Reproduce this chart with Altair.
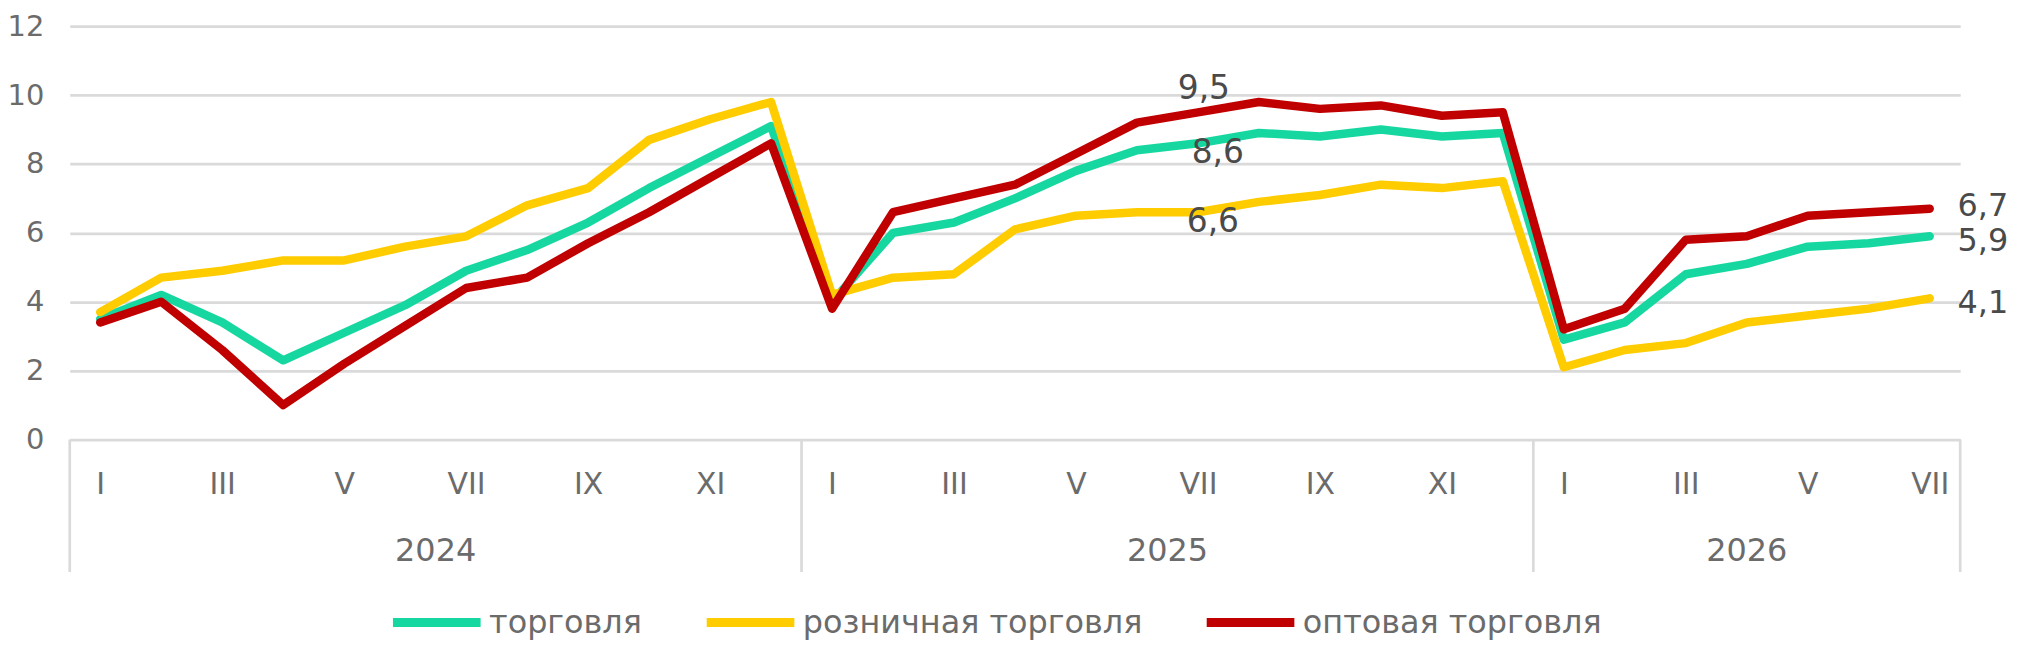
import altair as alt
import pandas as pd

# ---- data ----
months = ["I", "II", "III", "IV", "V", "VI", "VII", "VIII", "IX", "X", "XI", "XII"]
years = ["2024", "2025", "2026"]
months_per_year = [12, 12, 7]
series = ["торговля", "розничная торговля", "оптовая торговля"]
colors = ["#17D7A0", "#FFCC00", "#C00000"]

trade = [3.5, 4.2, 3.4, 2.3, 3.1, 3.9, 4.9, 5.5, 6.3, 7.3, 8.2, 9.1,
         4.0, 6.0, 6.3, 7.0, 7.8, 8.4, 8.6, 8.9, 8.8, 9.0, 8.8, 8.9,
         2.9, 3.4, 4.8, 5.1, 5.6, 5.7, 5.9]
retail = [3.7, 4.7, 4.9, 5.2, 5.2, 5.6, 5.9, 6.8, 7.3, 8.7, 9.3, 9.8,
          4.2, 4.7, 4.8, 6.1, 6.5, 6.6, 6.6, 6.9, 7.1, 7.4, 7.3, 7.5,
          2.1, 2.6, 2.8, 3.4, 3.6, 3.8, 4.1]
wholesale = [3.4, 4.0, 2.6, 1.0, 2.2, 3.3, 4.4, 4.7, 5.7, 6.6, 7.6, 8.6,
             3.8, 6.6, 7.0, 7.4, 8.3, 9.2, 9.5, 9.8, 9.6, 9.7, 9.4, 9.5,
             3.2, 3.8, 5.8, 5.9, 6.5, 6.6, 6.7]
y_ticks = [0, 2, 4, 6, 8, 10, 12]
labelled_month = 18  # VII 2025

# ---- tables ----
n = sum(months_per_year)
rows = []
for s, vals in zip(series, [trade, retail, wholesale]):
    for i, v in enumerate(vals):
        rows.append({"i": i, "v": v, "s": s, "lab": f"{v:.1f}".replace(".", ",")})
df = pd.DataFrame(rows)

year_rows, bounds = [], [-0.5]
start = 0
for y, m in zip(years, months_per_year):
    year_rows.append({"year": y, "c": start + (m - 1) / 2})
    start += m
    bounds.append(start - 0.5)
df_years = pd.DataFrame(year_rows)
df_bounds = pd.DataFrame({"b": bounds})

W, H = 1898, 415
TOP = 17
FONT = "DejaVu Sans"
GRAY = "#6B6B6B"
DARK = "#4A4A4A"
GRID = "#DADADA"

label_expr = "[" + ",".join(f"'{m}'" for m in months) + "][datum.value % 12]"
legend_expr = f"datum.label == '{series[2]}' ? '\u00a0' + datum.label : datum.label"

xscale = alt.Scale(domain=[-0.5, n - 0.5], nice=False, zero=False)

base = alt.Chart(df)

lines = base.mark_line(strokeWidth=8.5, strokeCap="round", strokeJoin="round").encode(
    x=alt.X("i:Q", scale=xscale, title=None,
            axis=alt.Axis(values=list(range(0, n, 2)), labelExpr=label_expr, grid=False,
                          domain=False, ticks=False, labelPadding=30, labelFontSize=30,
                          labelColor=GRAY, labelFont=FONT, labelOverlap=False, labelFlush=False)),
    y=alt.Y("v:Q", scale=alt.Scale(domain=[0, 12], nice=False), title=None,
            axis=alt.Axis(values=y_ticks, grid=True, gridColor=GRID, gridWidth=2.7,
                          domain=False, ticks=False, labelPadding=26, labelFontSize=29,
                          labelColor=GRAY, labelFont=FONT)),
    color=alt.Color("s:N", scale=alt.Scale(domain=series, range=colors),
                    legend=alt.Legend(title=None, orient="none", legendX=320, legendY=550,
                                      direction="horizontal", symbolType="stroke",
                                      symbolSize=7744, symbolStrokeWidth=9, labelFontSize=32,
                                      labelColor=GRAY, labelFont=FONT, columnPadding=46,
                                      labelOffset=4, padding=0, labelLimit=0,
                                      labelExpr=legend_expr)),
    order=alt.Order("i:Q"),
)

top_lab = base.transform_filter(
    (alt.datum.i == labelled_month) & (alt.datum.s == series[2])
).mark_text(fontSize=33, font=FONT, color=DARK, dy=-23, dx=6).encode(
    x="i:Q", y="v:Q", text="lab:N")

mid_lab = base.transform_filter(
    (alt.datum.i == labelled_month) & (alt.datum.s == series[0])
).mark_text(fontSize=33, font=FONT, color=DARK, dy=10, dx=20).encode(
    x="i:Q", y="v:Q", text="lab:N")

low_lab = base.transform_filter(
    (alt.datum.i == labelled_month) & (alt.datum.s == series[1])
).mark_text(fontSize=33, font=FONT, color=DARK, dy=10, dx=15).encode(
    x="i:Q", y="v:Q", text="lab:N")

end_layers = []
for s, dy in zip(series, [5, 5, -3]):
    end_layers.append(
        base.transform_filter((alt.datum.i == n - 1) & (alt.datum.s == s)).mark_text(
            fontSize=32, font=FONT, color=DARK, align="left", dx=28, dy=dy).encode(
            x="i:Q", y="v:Q", text="lab:N"))

year_txt = alt.Chart(df_years).mark_text(fontSize=32, font=FONT, color=GRAY).encode(
    x="c:Q", y=alt.value(H + 112), text="year:N")

seps = alt.Chart(df_bounds).mark_rule(color=GRID, strokeWidth=2.7).encode(
    x="b:Q", y=alt.value(H), y2=alt.value(H + 133))

chart = alt.layer(seps, lines, top_lab, mid_lab, low_lab, *end_layers, year_txt).properties(
    width=W, height=H,
    padding={"left": 62, "top": TOP, "right": 50, "bottom": 637 - TOP - H},
    autosize=alt.AutoSizeParams(type="none"),
).configure(font=FONT).configure_view(stroke=None)

chart.save("out.html", embed_options={"renderer": "svg", "actions": False})
